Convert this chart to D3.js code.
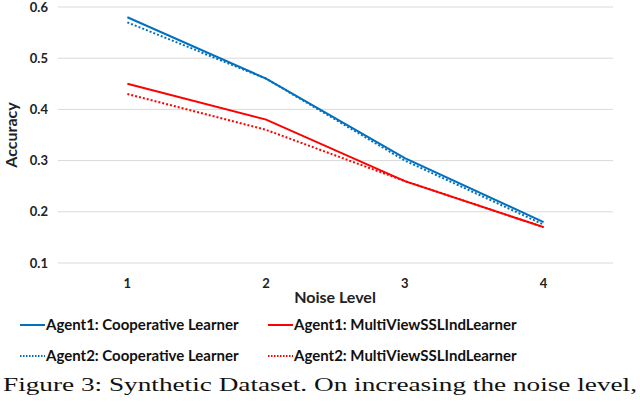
<!DOCTYPE html>
<html>
<head>
<meta charset="utf-8">
<script src="https://cdn.jsdelivr.net/npm/d3@7"></script>
<style>
body { margin: 0; background: #fff; }
</style>
</head>
<body>
<div id="chart"></div>
<script>
// Chart data
var levels = ["1", "2", "3", "4"];
var yTicks = [0.1, 0.2, 0.3, 0.4, 0.5, 0.6];
var agent1Coop = [0.58, 0.46, 0.305, 0.18];
var agent2Coop = [0.57, 0.46, 0.30, 0.175];
var agent1Multi = [0.45, 0.38, 0.26, 0.17];
var agent2Multi = [0.43, 0.36, 0.26, 0.17];
var seriesNames = ["Agent1: Cooperative Learner", "Agent1: MultiViewSSLIndLearner",
                   "Agent2: Cooperative Learner", "Agent2: MultiViewSSLIndLearner"];

var series = [
    {name: seriesNames[0], values: agent1Coop, color: "#0070c0", dash: null},
    {name: seriesNames[1], values: agent1Multi, color: "#ff0000", dash: null},
    {name: seriesNames[2], values: agent2Coop, color: "#0070c0", dash: "2,2"},
    {name: seriesNames[3], values: agent2Multi, color: "#ff0000", dash: "2,2"}
];

var w = 640, h = 403;
var plotLeft = 58, plotRight = 613, plotTop = 7, plotBottom = 263;
var sans = "Lato, 'Open Sans', sans-serif";

var svg = d3.select("#chart").append("svg")
    .attr("width", w)
    .attr("height", h)
    .attr("font-family", sans);

var x = d3.scaleBand().domain(levels).range([plotLeft, plotRight]);
var y = d3.scaleLinear().domain([0.1, 0.6]).range([plotBottom, plotTop]);

// grid lines
svg.selectAll(".grid")
    .data(yTicks)
    .enter()
    .append("line")
    .attr("x1", plotLeft)
    .attr("x2", plotRight)
    .attr("y1", function(d){ return y(d); })
    .attr("y2", function(d){ return y(d); })
    .attr("stroke", "#d9d9d9")
    .attr("stroke-width", 1);

// y axis labels
var yAxis = d3.axisLeft(y).tickValues(yTicks).tickFormat(d3.format(".1f")).tickSize(0).tickPadding(10);
svg.append("g")
    .attr("transform", "translate(" + plotLeft + ",0)")
    .call(yAxis)
    .call(function(g){ g.select(".domain").remove(); })
    .selectAll("text")
    .attr("font-family", sans)
    .attr("font-weight", "bold")
    .attr("font-size", 13)
    .attr("fill", "#222");

// x axis labels
var xAxis = d3.axisBottom(x).tickSize(0).tickPadding(16);
svg.append("g")
    .attr("transform", "translate(0," + plotBottom + ")")
    .call(xAxis)
    .call(function(g){ g.select(".domain").remove(); })
    .selectAll("text")
    .attr("font-family", sans)
    .attr("font-weight", "bold")
    .attr("font-size", 13)
    .attr("fill", "#222");

// axis titles
svg.append("text")
    .attr("transform", "translate(17,135) rotate(-90)")
    .attr("text-anchor", "middle")
    .attr("font-weight", "bold")
    .attr("font-size", 16)
    .attr("fill", "#222")
    .text("Accuracy");

svg.append("text")
    .attr("x", 335)
    .attr("y", 303)
    .attr("text-anchor", "middle")
    .attr("font-weight", "bold")
    .attr("font-size", 16)
    .attr("fill", "#222")
    .text("Noise Level");

// lines
var line = d3.line()
    .x(function(d, i){ return x(levels[i]) + x.bandwidth() / 2; })
    .y(function(d){ return y(d); });

svg.selectAll(".series")
    .data(series)
    .enter()
    .append("path")
    .attr("d", function(d){ return line(d.values); })
    .attr("fill", "none")
    .attr("stroke", function(d){ return d.color; })
    .attr("stroke-width", 2)
    .attr("stroke-dasharray", function(d){ return d.dash; });

// legend
var legend = svg.selectAll(".legend")
    .data(series)
    .enter()
    .append("g")
    .attr("transform", function(d, i){
        var lx = (i % 2 == 0) ? 20 : 268;
        var ly = (i < 2) ? 325 : 356;
        return "translate(" + lx + "," + ly + ")";
    });

legend.append("line")
    .attr("x1", 0)
    .attr("x2", 25)
    .attr("stroke", function(d){ return d.color; })
    .attr("stroke-width", 2)
    .attr("stroke-dasharray", function(d){ return d.dash ? "1.5,1.5" : null; });

legend.append("text")
    .attr("x", 26)
    .attr("y", 5)
    .attr("font-weight", "bold")
    .attr("font-size", 15)
    .attr("fill", "#111")
    .text(function(d){ return d.name; });

// caption
svg.append("text")
    .attr("x", 3)
    .attr("y", 391)
    .attr("font-family", "'Liberation Serif', 'DejaVu Serif', serif")
    .attr("font-size", 19)
    .attr("textLength", 634)
    .attr("lengthAdjust", "spacingAndGlyphs")
    .attr("fill", "#111")
    .text("Figure 3: Synthetic Dataset. On increasing the noise level,");
</script>
</body>
</html>
